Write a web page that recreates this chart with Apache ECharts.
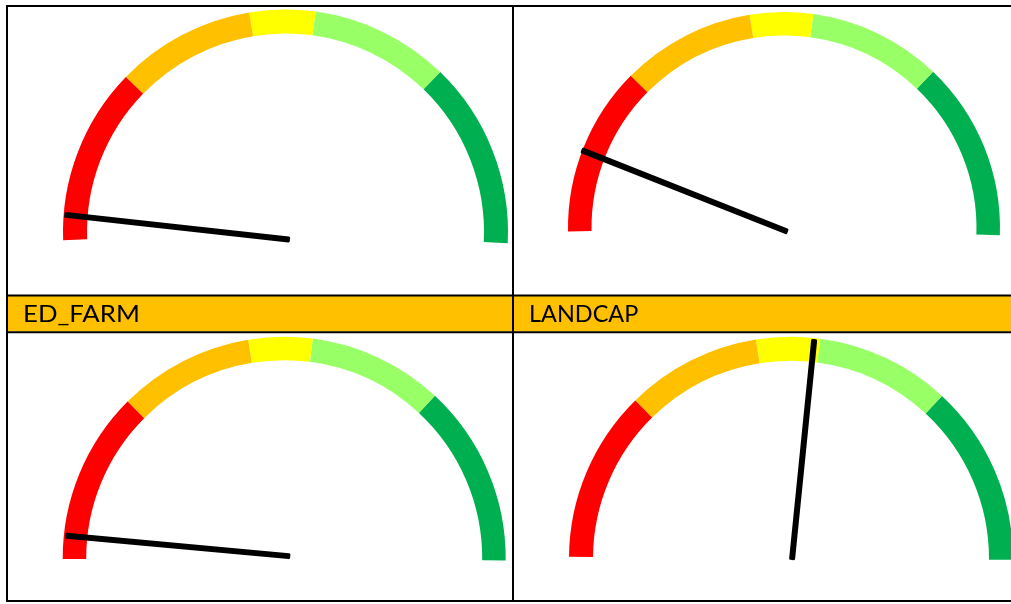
<!DOCTYPE html>
<html>
<head>
<meta charset="utf-8">
<script src="https://cdn.jsdelivr.net/npm/echarts@6/dist/echarts.min.js"></script>
<style>
html,body{margin:0;padding:0;background:#fff;}
#chart{width:1011px;height:604px;}
</style>
</head>
<body>
<div id="chart"></div>
<script>
// ---- data ----
const headerLabels = ['ED_FARM', 'LANDCAP'];
const bandThresholds = [25, 44.7, 54, 73.6, 100];
const bandColors = ['#FF0000', '#FFC000', '#FFFF00', '#99FF66', '#00B050'];
// needle readings (0-100 across the half dial), order: top-left, top-right, bottom-left, bottom-right
const needleValues = [3.5, 12.0, 2.9, 53.2];

// ---- layout (positions / sizes only) ----
const dialLayout = [
  {center: [285.5, 232], radius: 222.5, width: 24, start: 182.1, end: -2.9},
  {center: [784, 228], radius: 216, width: 23.5, start: 180.9, end: -1.9},
  {center: [284.2, 558.2], radius: 221.5, width: 23.5, start: 180.2, end: -0.6},
  {center: [791, 558.7], radius: 222, width: 24, start: 179.5, end: -0.3}
];
const needleLayout = [
  {center: [287, 239.3], length: 224},
  {center: [785, 230.7], length: 219},
  {center: [287.3, 556], length: 223},
  {center: [792.3, 557], length: 219}
];

const colorStops = bandThresholds.map((t, i) => [t / 100, bandColors[i]]);

const series = [];
dialLayout.forEach(d => {
  series.push({
    type: 'gauge',
    center: d.center,
    radius: d.radius,
    startAngle: d.start,
    endAngle: d.end,
    min: 0, max: 100,
    silent: true,
    axisLine: {show: true, roundCap: false, lineStyle: {width: d.width, color: colorStops}},
    splitLine: {show: false}, axisTick: {show: false}, axisLabel: {show: false},
    pointer: {show: false}, anchor: {show: false}, progress: {show: false},
    title: {show: false}, detail: {show: false},
    data: [{value: 0}]
  });
});
needleLayout.forEach((n, i) => {
  series.push({
    type: 'gauge',
    center: n.center,
    radius: n.length,
    startAngle: 180,
    endAngle: 0,
    min: 0, max: 100,
    silent: true,
    z: 5,
    axisLine: {show: false},
    splitLine: {show: false}, axisTick: {show: false}, axisLabel: {show: false},
    pointer: {show: true, icon: 'roundRect', width: 6, length: n.length + 3, offsetCenter: [0, 3],
              itemStyle: {color: '#000'}},
    anchor: {show: false}, progress: {show: false},
    title: {show: false}, detail: {show: false},
    data: [{value: needleValues[i]}]
  });
});

const black = {fill: '#000'};
const graphic = [
  {type: 'rect', z: 0, shape: {x: 8, y: 296, width: 1003, height: 35.5}, style: {fill: '#FFC000'}},
  {type: 'rect', z: 1, shape: {x: 6, y: 5, width: 1005, height: 2}, style: black},
  {type: 'rect', z: 1, shape: {x: 6, y: 5, width: 2, height: 597}, style: black},
  {type: 'rect', z: 1, shape: {x: 6, y: 600, width: 1005, height: 2}, style: black},
  {type: 'rect', z: 1, shape: {x: 512, y: 5, width: 2, height: 597}, style: black},
  {type: 'rect', z: 1, shape: {x: 6, y: 294.5, width: 1005, height: 2}, style: black},
  {type: 'rect', z: 1, shape: {x: 6, y: 331.3, width: 1005, height: 2}, style: black},
  {type: 'text', z: 2, x: 23, y: 314.5, scaleX: 1.12,
   style: {text: headerLabels[0], fill: '#000', font: '23px Lato', verticalAlign: 'middle', align: 'left'}},
  {type: 'text', z: 2, x: 529, y: 314.5, scaleX: 1.02,
   style: {text: headerLabels[1], fill: '#000', font: '23px Lato', verticalAlign: 'middle', align: 'left'}}
];

const chart = echarts.init(document.getElementById('chart'), null, {renderer: 'canvas'});
chart.setOption({
  animation: false,
  backgroundColor: '#fff',
  graphic: graphic,
  series: series
});
</script>
</body>
</html>
